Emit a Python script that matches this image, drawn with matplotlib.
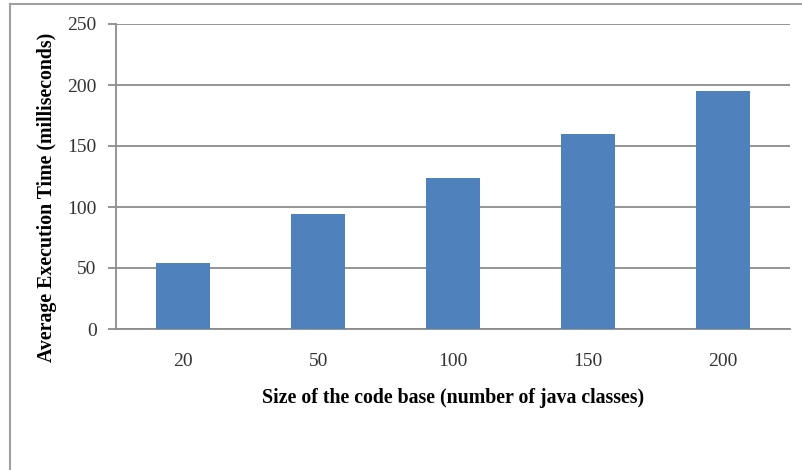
import matplotlib
matplotlib.use("Agg")
import matplotlib.pyplot as plt
from matplotlib.lines import Line2D

# average execution time per code base size
sizes = ["20", "50", "100", "150", "200"]
exec_times = [54, 94, 124, 160, 195]
y_ticks = [0, 50, 100, 150, 200, 250]

BAR_COLOR = "#4F81BD"
GRID_COLOR = "#8C8C8C"
plt.rcParams["font.family"] = ["Liberation Serif", "DejaVu Serif"]

fig = plt.figure(figsize=(8.02, 4.70), dpi=100)
W, H = 802, 470
ax = fig.add_axes([116 / W, 1 - 329 / H, (790 - 116) / W, (329 - 24) / H])

x = list(range(len(sizes)))
ax.bar(x, exec_times, width=0.4, color=BAR_COLOR, zorder=3)

ax.set_xlim(-0.5, len(sizes) - 0.5)
ax.set_ylim(0, 250)
ax.set_yticks(y_ticks)
ax.set_yticklabels([str(v) for v in y_ticks], fontsize=14, color="#333333")
ax.set_xticks(x)
ax.set_xticklabels(sizes, fontsize=14, color="#333333")
ax.grid(axis="y", color=GRID_COLOR, linewidth=1.3, zorder=0)

for side in ["top", "right"]:
    ax.spines[side].set_visible(False)
for side in ["left", "bottom"]:
    ax.spines[side].set_color(GRID_COLOR)
    ax.spines[side].set_linewidth(1.3)
ax.tick_params(axis="y", length=6, color=GRID_COLOR, width=1.3, pad=8)
ax.tick_params(axis="x", length=0, pad=17)

ax.set_xlabel("Size of the code base (number of java classes)", fontsize=14.3,
              fontweight="bold", labelpad=13)
ax.set_ylabel("Average Execution Time (milliseconds)", fontsize=14.3,
              fontweight="bold")
# y label sits a little below the middle of the axis
ax.yaxis.set_label_coords(-0.088, 0.433)

# outer chart frame
fig.add_artist(Line2D([10 / W, 1], [1 - 4 / H, 1 - 4 / H], color="#A0A0A0", lw=1.5))
fig.add_artist(Line2D([10 / W, 10 / W], [0, 1 - 4 / H], color="#A0A0A0", lw=1.5))

fig.savefig("out.png", dpi=100)
